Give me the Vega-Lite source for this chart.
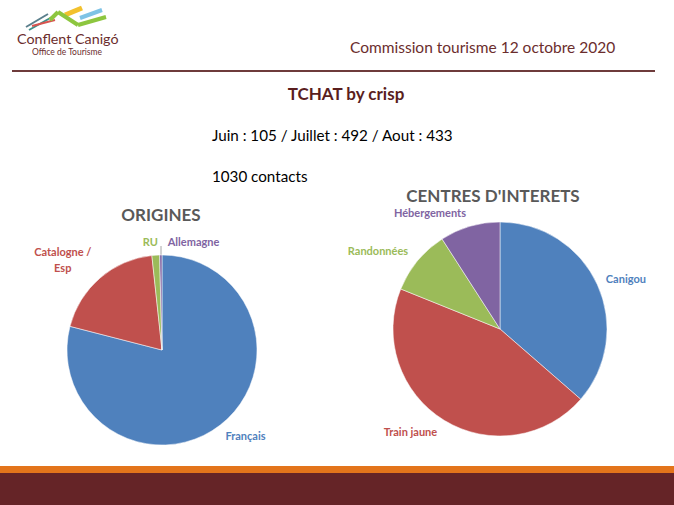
{
  "$schema": "https://vega.github.io/schema/vega-lite/v6.json",
  "width": 674,
  "height": 505,
  "autosize": {"type": "fit", "contains": "padding"},
  "padding": 0,
  "background": "white",
  "config": {"view": {"stroke": null}, "font": "Lato", "text": {"font": "Lato"}},
  "datasets": {
    "origines": [
      {"cat": "Français", "label": "Français", "pct": 79.0, "n": 1},
      {"cat": "Catalogne / Esp", "label": "Catalogne /\nEsp", "pct": 19.3, "n": 2},
      {"cat": "RU", "label": "RU", "pct": 1.3, "n": 3},
      {"cat": "Allemagne", "label": "Allemagne", "pct": 0.4, "n": 4}
    ],
    "centres": [
      {"cat": "Canigou", "label": "Canigou", "pct": 36.4, "n": 1},
      {"cat": "Train jaune", "label": "Train jaune", "pct": 44.7, "n": 2},
      {"cat": "Randonnées", "label": "Randonnées", "pct": 9.8, "n": 3},
      {"cat": "Hébergements", "label": "Hébergements", "pct": 9.1, "n": 4}
    ],
    "one": [{}]
  },
  "resolve": {"scale": {"theta": "independent"}},
  "layer": [
    {
      "data": {"name": "one"},
      "mark": {"type": "rect", "color": "#E3741B"},
      "encoding": {
        "x": {"datum": 0, "type": "quantitative", "scale": {"domain": [0, 674], "nice": false, "zero": false}, "axis": null},
        "x2": {"datum": 674},
        "y": {"datum": 466, "type": "quantitative", "scale": {"domain": [0, 505], "nice": false, "zero": false, "reverse": true}, "axis": null},
        "y2": {"datum": 473}
      }
    },
    {
      "data": {"name": "one"},
      "mark": {"type": "rect", "color": "#652427"},
      "encoding": {
        "x": {"datum": 0, "type": "quantitative"},
        "x2": {"datum": 674},
        "y": {"datum": 473, "type": "quantitative"},
        "y2": {"datum": 505}
      }
    },
    {
      "data": {"name": "one"},
      "mark": {"type": "rule", "color": "#6E3B3B", "strokeWidth": 2},
      "encoding": {
        "x": {"datum": 12, "type": "quantitative"},
        "x2": {"datum": 655},
        "y": {"datum": 71, "type": "quantitative"}
      }
    },
    {
      "data": {"name": "one"},
      "mark": {"type": "rule", "color": "#5B7F8C", "strokeWidth": 2},
      "encoding": {"x": {"datum": 26, "type": "quantitative"}, "x2": {"datum": 48}, "y": {"datum": 27, "type": "quantitative"}, "y2": {"datum": 14}}
    },
    {
      "data": {"name": "one"},
      "mark": {"type": "rule", "color": "#3E8F8A", "strokeWidth": 2},
      "encoding": {"x": {"datum": 29, "type": "quantitative"}, "x2": {"datum": 52}, "y": {"datum": 30, "type": "quantitative"}, "y2": {"datum": 17}}
    },
    {
      "data": {"name": "one"},
      "mark": {"type": "rule", "color": "#D9534F", "strokeWidth": 2},
      "encoding": {"x": {"datum": 32, "type": "quantitative"}, "x2": {"datum": 55}, "y": {"datum": 26, "type": "quantitative"}, "y2": {"datum": 20}}
    },
    {
      "data": {"name": "one"},
      "mark": {"type": "rule", "color": "#F2C12E", "strokeWidth": 5},
      "encoding": {"x": {"datum": 65, "type": "quantitative"}, "x2": {"datum": 82}, "y": {"datum": 15, "type": "quantitative"}, "y2": {"datum": 8}}
    },
    {
      "data": {"name": "one"},
      "mark": {"type": "rule", "color": "#7EC3E6", "strokeWidth": 4},
      "encoding": {"x": {"datum": 80, "type": "quantitative"}, "x2": {"datum": 102}, "y": {"datum": 18, "type": "quantitative"}, "y2": {"datum": 10}}
    },
    {
      "data": {"name": "one"},
      "mark": {"type": "rule", "color": "#8DC63F", "strokeWidth": 4},
      "encoding": {"x": {"datum": 50, "type": "quantitative"}, "x2": {"datum": 58}, "y": {"datum": 20, "type": "quantitative"}, "y2": {"datum": 12}}
    },
    {
      "data": {"name": "one"},
      "mark": {"type": "rule", "color": "#8DC63F", "strokeWidth": 4},
      "encoding": {"x": {"datum": 58, "type": "quantitative"}, "x2": {"datum": 78}, "y": {"datum": 12, "type": "quantitative"}, "y2": {"datum": 25}}
    },
    {
      "data": {"name": "one"},
      "mark": {"type": "rule", "color": "#8DC63F", "strokeWidth": 4},
      "encoding": {"x": {"datum": 78, "type": "quantitative"}, "x2": {"datum": 106}, "y": {"datum": 25, "type": "quantitative"}, "y2": {"datum": 17}}
    },
    {
      "data": {"name": "one"},
      "mark": {"type": "rule", "color": "#A6A6A6", "strokeWidth": 1},
      "encoding": {"x": {"datum": 161, "type": "quantitative"}, "y": {"datum": 246, "type": "quantitative"}, "y2": {"datum": 255}}
    },
    {
      "data": {"name": "one"},
      "mark": {"type": "text", "color": "#6B2D2D", "fontSize": 14.3, "align": "left", "baseline": "middle"},
      "encoding": {"x": {"datum": 17, "type": "quantitative"}, "y": {"datum": 40, "type": "quantitative"}, "text": {"value": "Conflent Canigó"}}
    },
    {
      "data": {"name": "one"},
      "mark": {"type": "text", "color": "#6B2D2D", "fontSize": 8.5, "align": "left", "baseline": "middle"},
      "encoding": {"x": {"datum": 32, "type": "quantitative"}, "y": {"datum": 52, "type": "quantitative"}, "text": {"value": "Office de Tourisme"}}
    },
    {
      "data": {"name": "one"},
      "mark": {"type": "text", "color": "#6B2D2D", "fontSize": 15.5, "align": "left", "baseline": "middle"},
      "encoding": {"x": {"datum": 350, "type": "quantitative"}, "y": {"datum": 48, "type": "quantitative"}, "text": {"value": "Commission tourisme 12 octobre 2020"}}
    },
    {
      "data": {"name": "one"},
      "mark": {"type": "text", "color": "#5A1E1E", "fontSize": 17, "fontWeight": "bold", "align": "center", "baseline": "middle"},
      "encoding": {"x": {"datum": 346, "type": "quantitative"}, "y": {"datum": 95, "type": "quantitative"}, "text": {"value": "TCHAT by crisp"}}
    },
    {
      "data": {"name": "one"},
      "mark": {"type": "text", "color": "#000000", "fontSize": 15.2, "align": "left", "baseline": "middle"},
      "encoding": {"x": {"datum": 212, "type": "quantitative"}, "y": {"datum": 136, "type": "quantitative"}, "text": {"value": "Juin : 105 / Juillet : 492 / Aout : 433"}}
    },
    {
      "data": {"name": "one"},
      "mark": {"type": "text", "color": "#000000", "fontSize": 15.2, "align": "left", "baseline": "middle"},
      "encoding": {"x": {"datum": 212, "type": "quantitative"}, "y": {"datum": 177, "type": "quantitative"}, "text": {"value": "1030 contacts"}}
    },
    {
      "data": {"name": "one"},
      "mark": {"type": "text", "color": "#595959", "fontSize": 17, "fontWeight": "bold", "align": "center", "baseline": "middle"},
      "encoding": {"x": {"datum": 161, "type": "quantitative"}, "y": {"datum": 216, "type": "quantitative"}, "text": {"value": "ORIGINES"}}
    },
    {
      "data": {"name": "one"},
      "mark": {"type": "text", "color": "#595959", "fontSize": 17, "fontWeight": "bold", "align": "center", "baseline": "middle"},
      "encoding": {"x": {"datum": 493, "type": "quantitative"}, "y": {"datum": 197, "type": "quantitative"}, "text": {"value": "CENTRES D'INTERETS"}}
    },
    {
      "data": {"name": "origines"},
      "encoding": {
        "x": {"datum": 162, "type": "quantitative"},
        "y": {"datum": 350, "type": "quantitative"},
        "theta": {"field": "pct", "type": "quantitative", "stack": true},
        "order": {"field": "n"},
        "color": {
          "field": "cat", "type": "nominal", "legend": null,
          "scale": {
            "domain": ["Français", "Catalogne / Esp", "RU", "Allemagne", "Canigou", "Train jaune", "Randonnées", "Hébergements"],
            "range": ["#4F81BD", "#C0504D", "#9BBB59", "#8064A2", "#4F81BD", "#C0504D", "#9BBB59", "#8064A2"]
          }
        }
      },
      "layer": [
        {"mark": {"type": "arc", "outerRadius": 95, "stroke": "white", "strokeWidth": 0.5}},
        {
          "mark": {"type": "text", "radius": 115, "fontSize": 11, "fontWeight": "bold", "align": "center", "baseline": "middle", "dx": 13, "dy": -4},
          "encoding": {"text": {"condition": {"test": "datum.cat === 'Français'", "field": "label"}, "value": ""}}
        },
        {
          "mark": {"type": "text", "radius": 115, "fontSize": 11, "fontWeight": "bold", "align": "center", "baseline": "middle", "dx": -24, "dy": -10, "lineBreak": "\n", "lineHeight": 16},
          "encoding": {"text": {"condition": {"test": "datum.cat === 'Catalogne / Esp'", "field": "label"}, "value": ""}}
        },
        {
          "mark": {"type": "text", "radius": 115, "fontSize": 11, "fontWeight": "bold", "align": "center", "baseline": "middle", "dx": -4, "dy": 8},
          "encoding": {"text": {"condition": {"test": "datum.cat === 'RU'", "field": "label"}, "value": ""}}
        },
        {
          "mark": {"type": "text", "radius": 115, "fontSize": 11, "fontWeight": "bold", "align": "center", "baseline": "middle", "dx": 33, "dy": 8},
          "encoding": {"text": {"condition": {"test": "datum.cat === 'Allemagne'", "field": "label"}, "value": ""}}
        }
      ]
    },
    {
      "data": {"name": "centres"},
      "encoding": {
        "x": {"datum": 500, "type": "quantitative"},
        "y": {"datum": 329, "type": "quantitative"},
        "theta": {"field": "pct", "type": "quantitative", "stack": true},
        "order": {"field": "n"},
        "color": {"field": "cat", "type": "nominal", "legend": null}
      },
      "layer": [
        {"mark": {"type": "arc", "outerRadius": 107, "stroke": "white", "strokeWidth": 0.5}},
        {
          "mark": {"type": "text", "radius": 135, "fontSize": 11, "fontWeight": "bold", "align": "center", "baseline": "middle", "dx": 3, "dy": 7},
          "encoding": {"text": {"condition": {"test": "datum.cat === 'Canigou'", "field": "label"}, "value": ""}}
        },
        {
          "mark": {"type": "text", "radius": 135, "fontSize": 11, "fontWeight": "bold", "align": "center", "baseline": "middle", "dx": -19, "dy": -11},
          "encoding": {"text": {"condition": {"test": "datum.cat === 'Train jaune'", "field": "label"}, "value": ""}}
        },
        {
          "mark": {"type": "text", "radius": 135, "fontSize": 11, "fontWeight": "bold", "align": "center", "baseline": "middle", "dx": -18, "dy": 9},
          "encoding": {"text": {"condition": {"test": "datum.cat === 'Randonnées'", "field": "label"}, "value": ""}}
        },
        {
          "mark": {"type": "text", "radius": 135, "fontSize": 11, "fontWeight": "bold", "align": "center", "baseline": "middle", "dx": -32, "dy": 15},
          "encoding": {"text": {"condition": {"test": "datum.cat === 'Hébergements'", "field": "label"}, "value": ""}}
        }
      ]
    }
  ]
}
